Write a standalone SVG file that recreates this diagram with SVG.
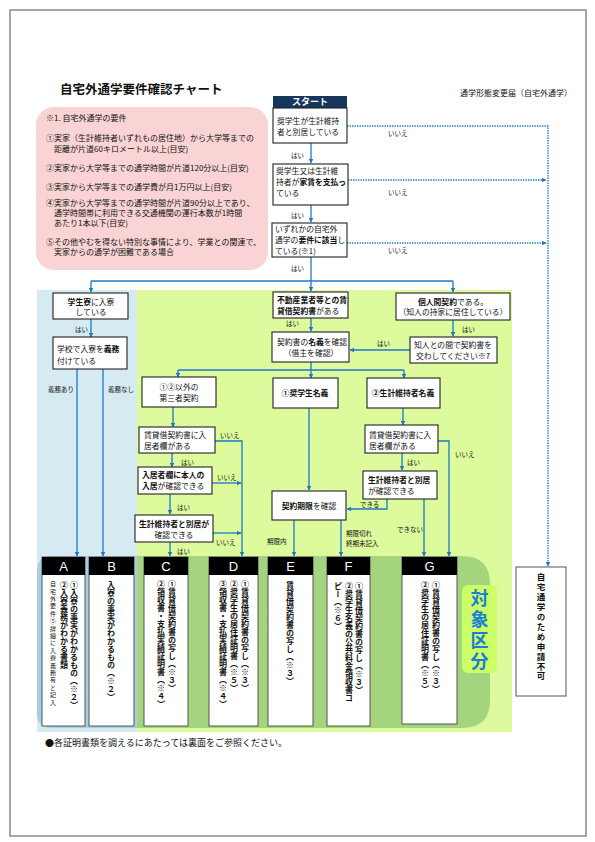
<svg xmlns="http://www.w3.org/2000/svg" width="595" height="842" viewBox="0 0 595 842">
<defs>
<marker id="ah" viewBox="0 0 6 6" refX="5.5" refY="3" markerWidth="4.5" markerHeight="4.5" orient="auto" markerUnits="userSpaceOnUse"><path d="M0,0 L6,3 L0,6 z" fill="#1e78c8"/></marker>
<style>
.t{font-family:"Noto Sans CJK JP","Noto Sans CJK SC",sans-serif;font-size:7.8px;fill:#111}
.s{font-size:6.5px}
.b{font-weight:bold}
.m{text-anchor:middle}
.box{fill:#fff;stroke:#222;stroke-width:1.1}
.col{fill:#fff;stroke:#555;stroke-width:1}
.hd{fill:#000}
.hl{font-family:"Liberation Sans",Arial,sans-serif;font-size:13px;fill:#fff;text-anchor:middle}
.ln{fill:none;stroke:#1e78c8;stroke-width:1.3}
.ar{marker-end:url(#ah)}
.dot{fill:none;stroke:#1e78c8;stroke-width:1.3;stroke-dasharray:1.4 1.1}
.v{writing-mode:vertical-rl;font-size:8px}
.vs{writing-mode:vertical-rl;font-size:6px;letter-spacing:1.4px}
</style>
</defs>
<rect x="0" y="0" width="595" height="842" fill="#fff"/>
<rect x="10" y="10" width="576" height="826" fill="none" stroke="#888" stroke-width="1.5"/>

<!-- backgrounds -->
<rect x="37" y="290" width="100" height="442" fill="#d5eaf1"/>
<rect x="137" y="290" width="375" height="442" fill="#ddfa9c"/>
<path d="M52,556 H137 V728 H52 Q37,728 37,713 V571 Q37,556 52,556 z" fill="#a9cde2"/>
<path d="M137,556 H462 Q490,556 490,584 V700 Q490,728 462,728 H137 z" fill="#a5d47f"/>
<g id="taisho">
<rect x="462" y="585" width="35" height="88" rx="6" fill="#ccff66"/>
<text class="t b" x="479.5" y="589" style="writing-mode:vertical-rl;font-size:18px;letter-spacing:3px;fill:#1a7fd0">対象区分</text>
</g>

<!-- title -->
<text class="t b" x="60" y="94" style="font-size:12.5px">自宅外通学要件確認チャート</text>
<text class="t" x="460" y="96" style="font-size:8px">通学形態変更届（自宅外通学）</text>

<!-- pink requirements -->
<g id="requirements">
<rect x="36" y="107" width="232" height="163" rx="18" fill="#fad4d4"/>
<text class="t" x="46" y="121" style="font-size:8px">※1. 自宅外通学の要件</text>
<text class="t" x="46" y="141" style="font-size:8px">①実家（生計維持者いずれもの居住地）から大学等までの</text>
<text class="t" x="54" y="152" style="font-size:8px">距離が片道60キロメートル以上(目安)</text>
<text class="t" x="46" y="171" style="font-size:8px">②実家から大学等までの通学時間が片道120分以上(目安)</text>
<text class="t" x="46" y="190" style="font-size:8px">③実家から大学等までの通学費が月1万円以上(目安)</text>
<text class="t" x="46" y="206" style="font-size:8px">④実家から大学等までの通学時間が片道90分以上であり、</text>
<text class="t" x="54" y="216" style="font-size:8px">通学時間帯に利用できる交通機関の運行本数が1時間</text>
<text class="t" x="54" y="226" style="font-size:8px">あたり1本以下(目安)</text>
<text class="t" x="46" y="245" style="font-size:8px">⑤その他やむを得ない特別な事情により、学業との関連で、</text>
<text class="t" x="54" y="255" style="font-size:8px">実家からの通学が困難である場合</text>
</g>

<!-- connectors -->
<g id="connectors">
<path class="ln ar" d="M311,143 V163"/>
<path class="ln ar" d="M311,205 V222"/>
<path class="ln" d="M311,257 V281"/>
<path class="ln" d="M91,281 H453"/>
<path class="ln ar" d="M91,281 V292"/>
<path class="ln ar" d="M311,281 V291"/>
<path class="ln ar" d="M453,281 V292"/>
<path class="dot ar" d="M347,126 H548 V566"/>
<path class="dot ar" d="M348,180 H546"/>
<path class="dot ar" d="M347,243 H546"/>
<path class="ln ar" d="M91,319 V337"/>
<path class="ln ar" d="M77,369 V556"/>
<path class="ln ar" d="M103,369 V556"/>
<path class="ln ar" d="M311,318 V331"/>
<path class="ln ar" d="M453,320 V336"/>
<path class="ln ar" d="M410,350 H350"/>
<path class="ln" d="M311,362 V370"/>
<path class="ln ar" d="M178,370 V377"/>
<path class="ln" d="M178,370 H404"/>
<path class="ln ar" d="M404,370 V378"/>
<path class="ln ar" d="M311,370 V378"/>
<path class="ln ar" d="M173,407 V427"/>
<path class="ln ar" d="M172,453 V467"/>
<path class="ln ar" d="M170,494 V514"/>
<path class="ln ar" d="M170,542 V556"/>
<path class="ln ar" d="M215,441 H242 V556"/>
<path class="ln ar" d="M212,483 H241"/>
<path class="ln ar" d="M213,533 H241"/>
<path class="ln ar" d="M309,408 V490"/>
<path class="ln ar" d="M403,408 V425"/>
<path class="ln ar" d="M438,441 H449 V556"/>
<path class="ln ar" d="M402,453 V470"/>
<path class="ln ar" d="M387,499 V509 H347"/>
<path class="ln ar" d="M424,499 V556"/>
<path class="ln ar" d="M294,520 V556"/>
<path class="ln ar" d="M341,520 V556"/>
</g>

<!-- connector labels -->
<g id="labels">
<text class="t s" x="291" y="158">はい</text>
<text class="t s" x="291" y="218">はい</text>
<text class="t s" x="291" y="271">はい</text>
<text class="t s" x="388" y="136">いいえ</text>
<text class="t s" x="388" y="195">いいえ</text>
<text class="t s" x="388" y="253">いいえ</text>
<text class="t s" x="75" y="332">はい</text>
<text class="t s" x="48" y="392">義務あり</text>
<text class="t s" x="108" y="392">義務なし</text>
<text class="t s" x="286" y="326">はい</text>
<text class="t s" x="462" y="332">はい</text>
<text class="t s" x="377" y="346">はい</text>
<text class="t s" x="220" y="438">いいえ</text>
<text class="t s" x="181" y="465">はい</text>
<text class="t s" x="217" y="480">いいえ</text>
<text class="t s" x="177" y="510">はい</text>
<text class="t s" x="216" y="545">いいえ</text>
<text class="t s" x="177" y="554">はい</text>
<text class="t s" x="455" y="457">いいえ</text>
<text class="t s" x="407" y="465">はい</text>
<text class="t s" x="360" y="507">できる</text>
<text class="t s" x="397" y="532">できない</text>
<text class="t s" x="267" y="544">期限内</text>
<text class="t s" x="346" y="536">期限切れ</text>
<text class="t s" x="346" y="546">終期未記入</text>
</g>

<!-- start nodes -->
<g id="start">
<rect x="273" y="96" width="74" height="12" fill="#17365d"/>
<text class="t b m" x="310" y="105" style="fill:#fff;font-size:9px">スタート</text>
<rect class="box" x="273" y="108" width="74" height="35"/>
<text class="t" x="277" y="124">奨学生が生計維持</text>
<text class="t" x="277" y="135">者と別居している</text>
</g>
<g id="q-rent">
<rect class="box" x="273" y="164" width="75" height="41"/>
<text class="t" x="276" y="174">奨学生又は生計維</text>
<text class="t" x="276" y="185">持者が<tspan class="b">家賃を支払っ</tspan></text>
<text class="t" x="276" y="196">ている</text>
</g>
<g id="q-req">
<rect class="box" x="272" y="223" width="75" height="34"/>
<text class="t" x="275" y="232">いずれかの自宅外</text>
<text class="t" x="275" y="243">通学の<tspan class="b">要件に該当</tspan>し</text>
<text class="t" x="275" y="254">ている(※1)</text>
</g>

<g id="dorm">
<rect class="box" x="53" y="293" width="75" height="26"/>
<text class="t m" x="91" y="305"><tspan class="b">学生寮</tspan>に入寮</text>
<text class="t m" x="91" y="315">している</text>
</g>
<g id="dorm-duty">
<rect class="box" x="53" y="337" width="74" height="32"/>
<text class="t" x="57" y="352">学校で入寮を<tspan class="b">義務</tspan></text>
<text class="t" x="57" y="364">付けている</text>
</g>

<g id="realestate">
<rect class="box" x="273" y="292" width="75" height="26"/>
<text class="t b" x="277" y="303">不動産業者等との賃</text>
<text class="t" x="277" y="314"><tspan class="b">貸借契約書</tspan>がある</text>
</g>
<g id="personal">
<rect class="box" x="396" y="293" width="114" height="27"/>
<text class="t m" x="453" y="305"><tspan class="b">個人間契約</tspan>である。</text>
<text class="t m" x="453" y="315">（知人の持家に居住している）</text>
</g>
<g id="name-check">
<rect class="box" x="272" y="332" width="77" height="30"/>
<text class="t" x="277" y="345">契約書の<tspan class="b">名義</tspan>を確認</text>
<text class="t m" x="311" y="356">（借主を確認）</text>
</g>
<g id="acquaint">
<rect class="box" x="410" y="337" width="87" height="26"/>
<text class="t m" x="453" y="348">知人との間で契約書を</text>
<text class="t m" x="453" y="359">交わしてください※7</text>
</g>

<g id="third">
<rect class="box" x="142" y="377" width="74" height="30"/>
<text class="t m" x="179" y="390">①②以外の</text>
<text class="t m" x="179" y="401">第三者契約</text>
</g>
<g id="student-name">
<rect class="box" x="273" y="378" width="65" height="30"/>
<text class="t b m" x="305" y="396">①奨学生名義</text>
</g>
<g id="parent-name">
<rect class="box" x="367" y="378" width="73" height="30"/>
<text class="t b m" x="403" y="396">②生計維持者名義</text>
</g>

<g id="left-q1">
<rect class="box" x="139" y="427" width="76" height="26"/>
<text class="t" x="144" y="438">賃貸借契約書に入</text>
<text class="t" x="144" y="449">居者欄がある</text>
</g>
<g id="left-q2">
<rect class="box" x="138" y="467" width="74" height="27"/>
<text class="t b" x="142" y="478">入居者欄に本人の</text>
<text class="t" x="142" y="489"><tspan class="b">入居</tspan>が確認できる</text>
</g>
<g id="left-q3">
<rect class="box" x="135" y="515" width="78" height="27"/>
<text class="t b" x="139" y="527">生計維持者と別居が</text>
<text class="t m" x="174" y="538">確認できる</text>
</g>

<g id="right-q1">
<rect class="box" x="365" y="425" width="73" height="28"/>
<text class="t" x="369" y="438">賃貸借契約書に入</text>
<text class="t" x="369" y="449">居者欄がある</text>
</g>
<g id="right-q2">
<rect class="box" x="363" y="471" width="74" height="28"/>
<text class="t b" x="368" y="483">生計維持者と別居</text>
<text class="t" x="368" y="494">が確認できる</text>
</g>
<g id="term">
<rect class="box" x="272" y="491" width="74" height="29"/>
<text class="t m" x="309" y="509"><tspan class="b">契約期限</tspan>を確認</text>
</g>

<!-- columns -->
<g id="colA">
<rect class="col" x="42" y="557" width="43" height="169"/>
<rect class="hd" x="42" y="557" width="43" height="18"/>
<text class="hl" x="63.5" y="571">A</text>
<text class="t b v" x="74" y="581">①入寮の事実がわかるもの（※２）</text>
<text class="t b v" x="64" y="581">②入寮義務がわかる書類</text>
<text class="t vs" x="53" y="581">自宅外要件⑤詳細に入寮義務有と記入</text>
</g>
<g id="colB">
<rect class="col" x="89" y="557" width="45" height="169"/>
<rect class="hd" x="89" y="557" width="45" height="18"/>
<text class="hl" x="111.5" y="571">B</text>
<text class="t b v" x="111" y="581">入寮の事実がわかるもの（※２）</text>
</g>
<g id="colC">
<rect class="col" x="144" y="557" width="44" height="169"/>
<rect class="hd" x="144" y="557" width="44" height="18"/>
<text class="hl" x="166" y="571">C</text>
<text class="t b v" x="172" y="580">①賃貸借契約書の写し（※３）</text>
<text class="t b v" x="161" y="580">②領収書・支払実績証明書（※４）</text>
</g>
<g id="colD">
<rect class="col" x="209" y="557" width="49" height="169"/>
<rect class="hd" x="209" y="557" width="49" height="18"/>
<text class="hl" x="233.5" y="571">D</text>
<text class="t b v" x="245" y="580">①賃貸借契約書の写し（※３）</text>
<text class="t b v" x="234" y="580">②奨学生の居住証明書（※５）</text>
<text class="t b v" x="223" y="580">③領収書・支払実績証明書（※４）</text>
</g>
<g id="colE">
<rect class="col" x="268" y="557" width="45" height="169"/>
<rect class="hd" x="268" y="557" width="45" height="18"/>
<text class="hl" x="290.5" y="571">E</text>
<text class="t b v" x="290" y="581">賃貸借契約書の写し（※３）</text>
</g>
<g id="colF">
<rect class="col" x="327" y="557" width="43" height="169"/>
<rect class="hd" x="327" y="557" width="43" height="18"/>
<text class="hl" x="348.5" y="571">F</text>
<text class="t b v" x="359" y="582">①賃貸借契約書の写し（※３）</text>
<text class="t b v" x="349" y="582">②奨学生名義の公共料金領収書コ</text>
<text class="t b v" x="338" y="582">ピー（※６）</text>
</g>
<g id="colG">
<rect class="col" x="402" y="557" width="55" height="167"/>
<rect class="hd" x="402" y="557" width="55" height="18"/>
<text class="hl" x="429.5" y="571">G</text>
<text class="t b v" x="436" y="581">①賃貸借契約書の写し（※３）</text>
<text class="t b v" x="425" y="581">②奨学生の居住証明書（※５）</text>
</g>

<g id="not-eligible">
<rect class="col" x="516" y="567" width="50" height="129"/>
<text class="t b" x="541" y="573" style="writing-mode:vertical-rl;font-size:8.5px;letter-spacing:1.4px">自宅通学のため申請不可</text>
</g>

<text class="t" x="45" y="746" style="font-size:9px">●各証明書類を調えるにあたっては裏面をご参照ください。</text>
</svg>
